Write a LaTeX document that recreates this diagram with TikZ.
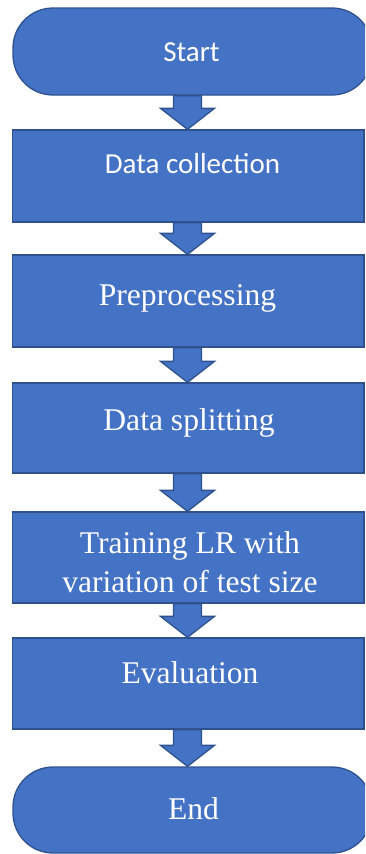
\documentclass[tikz,border=0pt]{standalone}
\usepackage{fontspec}
\setmainfont{Liberation Serif}
\newfontfamily\calfont{Carlito}
\usetikzlibrary{calc}
\definecolor{fillblue}{HTML}{4472C4}
\definecolor{strokeblue}{HTML}{2F528F}
\newcommand\flowarrow[2]{%
  \draw[blockarrow] let \p1=(#1.south), \p2=(#2.north) in
    (173.5pt,\y1) -- (201.5pt,\y1) -- (201.5pt,\y2+21pt) -- (214.5pt,\y2+21pt)
    -- (187.5pt,\y2) -- (160.5pt,\y2+21pt) -- (173.5pt,\y2+21pt) -- cycle;}
\begin{document}
\begin{tikzpicture}[x=1pt,y=-1pt,
  flow/.style={draw=strokeblue, fill=fillblue, line width=1.3pt, inner sep=0pt},
  term/.style={flow, rounded corners=40pt, minimum width=359pt},
  proc/.style={flow, minimum width=351.5pt},
  lbl/.style={text=white, anchor=base, inner sep=0pt},
  sanslbl/.style={lbl, font=\calfont\fontsize{29}{34}\selectfont},
  seriflbl/.style={lbl, font=\fontsize{31.6}{38}\selectfont},
  blockarrow/.style={draw=strokeblue, fill=fillblue, line width=1.3pt, line join=miter}]
\useasboundingbox (0,0) rectangle (365,854);
\clip (0,0) rectangle (365,854);
\fill[white] (0,0) rectangle (365,854);

\node[term, minimum height=87pt] (start) at (192.5,51.5) {};
\node[proc, minimum height=92pt] (b1) at (188.25,176) {};
\node[proc, minimum height=92pt] (b2) at (188.25,301) {};
\node[proc, minimum height=90pt] (b3) at (188.25,428) {};
\node[proc, minimum height=91pt] (b4) at (188.25,557.5) {};
\node[proc, minimum height=91pt] (b5) at (188.25,683.5) {};
\node[term, minimum height=86pt] (end) at (192.5,810) {};

\flowarrow{start}{b1}
\flowarrow{b1}{b2}
\flowarrow{b2}{b3}
\flowarrow{b3}{b4}
\flowarrow{b4}{b5}
\flowarrow{b5}{end}

\node[sanslbl] (tstart) at (191.5,61) {Start};
\node[sanslbl] (t1) at (192.5,173) {Data collection};
\node[seriflbl] (t2) at (187.5,305) {Preprocessing};
\node[seriflbl] (t3) at (189,430) {Data splitting};
\node[seriflbl] (t4a) at (190,553) {Training LR with};
\node[seriflbl] (t4b) at (190,592) {variation of test size};
\node[seriflbl] (t5) at (190,683) {Evaluation};
\node[seriflbl] (tend) at (193.5,819) {End};
\end{tikzpicture}
\end{document}
